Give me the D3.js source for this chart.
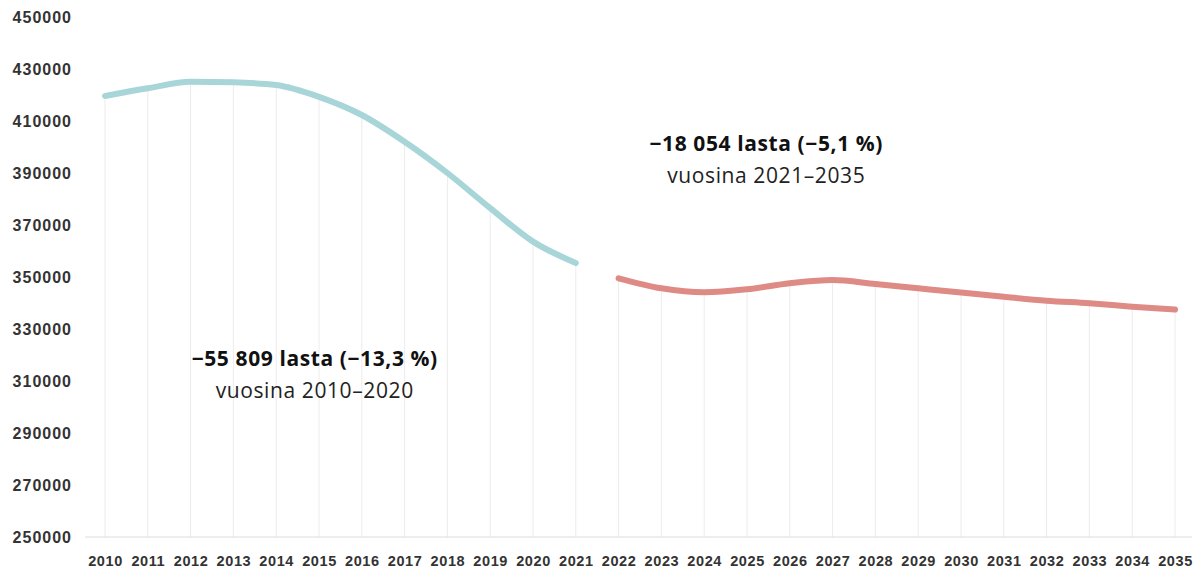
<!DOCTYPE html>
<html><head><meta charset="utf-8">
<script src="https://cdn.jsdelivr.net/npm/d3@7"></script>
<style>body{margin:0;background:#fff;} svg{display:block;font-family:"Open Sans",sans-serif;}</style>
</head><body><svg id="c" width="1198" height="570"></svg>
<script>
const years = d3.range(2010, 2036);
const pastYears = [2010,2011,2012,2013,2014,2015,2016,2017,2018,2019,2020,2021];
const pastValues = [419600,422570,425100,424880,423840,419300,412300,402000,390000,376500,363600,355400];
const futureYears = [2022,2023,2024,2025,2026,2027,2028,2029,2030,2031,2032,2033,2034,2035];
const futureValues = [349500,345650,344100,345260,347570,348840,347300,345650,344000,342400,340900,339900,338600,337500];
const yTicks = [250000,270000,290000,310000,330000,350000,370000,390000,410000,430000,450000];
const notes = [
  {bold:"\u221255 809 lasta (\u221213,3 %)", sub:"vuosina 2010\u20132020", year:2014.9, value:315800},
  {bold:"\u221218 054 lasta (\u22125,1 %)", sub:"vuosina 2021\u20132035", year:2025.45, value:398500}
];

const svg = d3.select("#c");
const x = d3.scaleLinear().domain([2010,2035]).range([105,1175]);
const y = d3.scaleLinear().domain([250000,450000]).range([537,17]);

// drop lines
const all = pastYears.map((d,i)=>({year:d,value:pastValues[i]})).concat(futureYears.map((d,i)=>({year:d,value:futureValues[i]})));
svg.append("g").selectAll("line").data(all).join("line")
  .attr("x1",d=>x(d.year)).attr("x2",d=>x(d.year))
  .attr("y1",d=>y(d.value)).attr("y2",y(250000))
  .attr("stroke","#ececec").attr("stroke-width",1);

// baseline
svg.append("line").attr("x1",85).attr("x2",1192).attr("y1",y(250000)).attr("y2",y(250000))
  .attr("stroke","#dcdcdc").attr("stroke-width",1);

// y axis labels
const yAxis = d3.axisLeft(y).tickValues(yTicks).tickSize(0).tickPadding(0).tickFormat(d3.format("d"));
const ya = svg.append("g").attr("transform","translate(72,0)").call(yAxis);
ya.select(".domain").remove();
ya.selectAll("text").attr("font-size",16).attr("letter-spacing",1).attr("font-weight",600).attr("fill","#333");

// x axis labels
const xAxis = d3.axisBottom(x).tickValues(years).tickSize(0).tickPadding(0).tickFormat(d3.format("d"));
const xa = svg.append("g").attr("transform","translate(0,556)").call(xAxis);
xa.select(".domain").remove();
xa.selectAll("text").attr("font-size",14.5).attr("letter-spacing",0.6).attr("font-weight",600).attr("fill","#333");

const line = d3.line().x(d=>x(d.year)).y(d=>y(d.value)).curve(d3.curveMonotoneX);
svg.append("path").datum(pastYears.map((d,i)=>({year:d,value:pastValues[i]})))
  .attr("d",line).attr("fill","none").attr("stroke","#a8d5d8").attr("stroke-width",6).attr("stroke-linecap","round");
svg.append("path").datum(futureYears.map((d,i)=>({year:d,value:futureValues[i]})))
  .attr("d",line).attr("fill","none").attr("stroke","#de8a85").attr("stroke-width",6).attr("stroke-linecap","round");

const ng = svg.append("g").selectAll("g").data(notes).join("g")
  .attr("transform",d=>`translate(${x(d.year)},${y(d.value)})`);
ng.append("text").attr("text-anchor","middle").attr("y",0).attr("font-size",21).attr("letter-spacing",0.6).attr("font-weight",700).attr("fill","#111").text(d=>d.bold);
ng.append("text").attr("text-anchor","middle").attr("y",32).attr("font-size",21).attr("letter-spacing",0.6).attr("font-weight",400).attr("fill","#222").text(d=>d.sub);
</script></body></html>
